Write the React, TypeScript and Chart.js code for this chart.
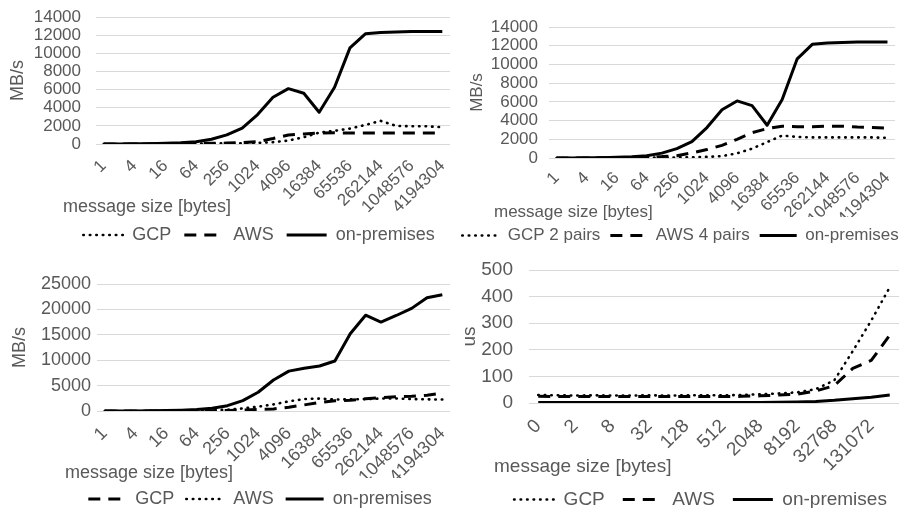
import React, { useEffect, useRef } from 'react';
import { Chart, registerables } from 'chart.js';
Chart.register(...registerables);

// ---------- data ----------
const sizesA = ['1', '2', '4', '8', '16', '32', '64', '128', '256', '512', '1024', '2048', '4096', '8192', '16384', '32768', '65536', '131072', '262144', '524288', '1048576', '2097152', '4194304'];
const sizesB = ['0', '1', '2', '4', '8', '16', '32', '64', '128', '256', '512', '1024', '2048', '4096', '8192', '16384', '32768', '65536', '131072', '262144'];

// top-left
const tlGcp = [2, 4, 8, 15, 25, 40, 55, 60, 70, 80, 120, 200, 380, 750, 1250, 1450, 1700, 2100, 2550, 2000, 1950, 1950, 1850];
const tlAws = [2, 4, 8, 15, 25, 40, 60, 80, 100, 150, 250, 600, 1000, 1100, 1200, 1250, 1200, 1200, 1200, 1200, 1200, 1200, 1200];
const tlOnPrem = [5, 10, 20, 40, 70, 130, 250, 520, 1000, 1750, 3250, 5150, 6100, 5600, 3500, 6250, 10600, 12150, 12300, 12350, 12400, 12400, 12400];

// top-right
const trGcp2 = [1, 2, 4, 8, 15, 25, 40, 50, 60, 80, 120, 200, 500, 1000, 1700, 2400, 2250, 2200, 2200, 2200, 2200, 2200, 2150];
const trAws4 = [2, 5, 10, 20, 40, 70, 110, 150, 250, 550, 900, 1350, 2000, 2700, 3150, 3400, 3350, 3350, 3400, 3400, 3300, 3250, 3200];
const trOnPrem = [5, 10, 20, 40, 70, 130, 250, 520, 1000, 1750, 3250, 5150, 6100, 5600, 3500, 6250, 10600, 12150, 12300, 12350, 12400, 12400, 12400];

// bottom-left
const blGcp = [1, 2, 4, 8, 15, 25, 40, 60, 100, 200, 300, 400, 750, 1200, 1700, 2000, 2100, 2400, 2600, 2800, 2900, 3100, 3500];
const blAws = [2, 4, 8, 15, 25, 45, 80, 150, 250, 500, 850, 1300, 1900, 2350, 2450, 2250, 2300, 2350, 2450, 2450, 2350, 2300, 2250];
const blOnPrem = [5, 10, 20, 40, 80, 150, 280, 530, 1050, 2050, 3700, 6100, 7850, 8400, 8850, 9850, 15200, 18850, 17500, 18800, 20200, 22300, 22900];

// bottom-right (latency)
const brGcp = [30, 29, 28, 29, 28, 28, 29, 28, 29, 29, 29, 30, 33, 36, 40, 52, 85, 195, 310, 435];
const brAws = [25, 24, 24, 24, 24, 24, 24, 24, 24, 24, 24, 25, 27, 30, 33, 45, 65, 130, 160, 255];
const brOnPrem = [2, 2, 2, 2, 2, 2, 2, 2, 2, 2, 2, 2, 2, 3, 4, 6, 10, 16, 22, 30];

// ---------- styling ----------
const FONT = "'Liberation Sans', Arial, Helvetica, sans-serif";
const TEXT = '#595959';
const GRID = '#d9d9d9';

const STYLES: any = {
  dotted: { borderDash: [0.5, 6], borderCapStyle: 'round', borderWidth: 2.6 },
  dashed: { borderDash: [12, 8], borderCapStyle: 'butt', borderWidth: 3 },
  solid: { borderDash: [], borderCapStyle: 'butt', borderWidth: 3 },
};

const xTitlePlugin = {
  id: 'xTitle',
  afterDraw(chart: any, _args: any, opts: any) {
    const { ctx, chartArea } = chart;
    ctx.save();
    ctx.font = `${opts.size}px ${FONT}`;
    ctx.fillStyle = TEXT;
    ctx.textAlign = 'left';
    ctx.textBaseline = 'middle';
    ctx.fillText(opts.text, chartArea.left + opts.dx, chartArea.bottom + opts.dy);
    ctx.restore();
  },
};

const defaultLabels = (Chart.defaults as any).plugins.legend.labels.generateLabels;
function legendLabels(chart: any) {
  const items = defaultLabels(chart);
  return items.map((it: any) => {
    const ds = chart.data.datasets[it.datasetIndex];
    return {
      ...it,
      pointStyle: 'line',
      lineDash: ds.borderDash,
      lineCap: ds.borderCapStyle,
      lineWidth: ds.borderWidth,
      strokeStyle: ds.borderColor,
      fillStyle: ds.borderColor,
      fontColor: TEXT,
    };
  }).sort((a: any, b: any) => a.datasetIndex - b.datasetIndex);
}

type Series = { name: string; data: number[]; style: string };
type Props = {
  left: number; top: number; width: number; height: number;
  labels: string[]; series: Series[]; yMax: number; yStep: number; yTitle: string;
  tickSize: number; fontSize: number; padTop: number; yAxisW: number; rightW: number;
  xAxisH: number; yTickPad: number; yTitlePad: number; xTickPad: number;
  legendPad: number; legendLine: number; xdx: number; xdy: number;
};

function LineChart(p: Props) {
  const ref = useRef<HTMLCanvasElement>(null);
  useEffect(() => {
    const chart = new Chart(ref.current as HTMLCanvasElement, {
      type: 'line',
      data: {
        labels: p.labels,
        datasets: p.series.map((s, i) => ({
          label: s.name,
          data: s.data,
          borderColor: '#000000',
          backgroundColor: '#000000',
          pointRadius: 0,
          pointHoverRadius: 0,
          fill: false,
          tension: 0,
          borderJoinStyle: 'round',
          order: p.series.length - i,
          ...STYLES[s.style],
        })),
      },
      options: {
        responsive: false,
        animation: false,
        devicePixelRatio: 1,
        layout: { padding: { top: p.padTop, left: 0, right: 0, bottom: 0 } },
        scales: {
          x: {
            offset: true,
            grid: { display: false, drawTicks: false },
            border: { display: false },
            ticks: {
              autoSkip: false,
              minRotation: 45,
              maxRotation: 45,
              padding: p.xTickPad,
              color: TEXT,
              font: { family: FONT, size: p.tickSize },
              callback: (_v: any, i: number) => (i % 2 === 0 ? p.labels[i] : ''),
            },
            afterFit: (s: any) => { s.height = p.xAxisH; },
          },
          y: {
            min: 0,
            max: p.yMax,
            ticks: {
              autoSkip: false,
              stepSize: p.yStep,
              padding: p.yTickPad,
              color: TEXT,
              font: { family: FONT, size: p.tickSize },
              callback: (v: any) => String(v),
            },
            grid: { color: GRID, drawTicks: false, lineWidth: 1 },
            border: { display: false },
            title: {
              display: true,
              text: p.yTitle,
              color: TEXT,
              font: { family: FONT, size: p.fontSize },
              padding: { top: p.yTitlePad, bottom: 0 },
            },
            afterFit: (s: any) => {
              s.width = p.yAxisW;
              s.paddingTop = 0;
              s.paddingBottom = 0;
            },
          },
          yRight: {
            type: 'linear',
            axis: 'y',
            position: 'right',
            display: true,
            grid: { display: false, drawTicks: false },
            border: { display: false },
            ticks: { display: false },
            afterFit: (s: any) => { s.width = p.rightW; s.paddingTop = 0; s.paddingBottom = 0; },
          },
        },
        plugins: {
          legend: {
            position: 'bottom',
            labels: {
              usePointStyle: true,
              pointStyle: 'line',
              pointStyleWidth: p.legendLine,
              padding: p.legendPad,
              color: TEXT,
              font: { family: FONT, size: p.fontSize },
              generateLabels: legendLabels,
            },
          },
          tooltip: { enabled: false },
          xTitle: { text: 'message size [bytes]', dx: p.xdx, dy: p.xdy, size: p.fontSize },
        } as any,
      } as any,
      plugins: [xTitlePlugin],
    } as any);
    return () => chart.destroy();
  }, []);
  return (
    <canvas
      ref={ref}
      width={p.width}
      height={p.height}
      style={{ position: 'absolute', left: p.left, top: p.top, width: p.width, height: p.height }}
    />
  );
}

export default function App() {
  return (
    <div style={{ position: 'absolute', left: 0, top: 0, width: 904, height: 508, overflow: 'hidden', background: '#ffffff' }}>
      <LineChart
        left={0} top={0} width={518} height={254}
        labels={sizesA}
        series={[
          { name: 'GCP', data: tlGcp, style: 'dotted' },
          { name: 'AWS', data: tlAws, style: 'dashed' },
          { name: 'on-premises', data: tlOnPrem, style: 'solid' },
        ]}
        yMax={14000} yStep={2000} yTitle="MB/s"
        tickSize={17} fontSize={18} padTop={17} yAxisW={96} rightW={68} xAxisH={69}
        yTickPad={15} yTitlePad={7} xTickPad={12} legendPad={13} legendLine={40} xdx={-33} xdy={63}
      />
      <LineChart
        left={420} top={0} width={521} height={254}
        labels={sizesA}
        series={[
          { name: 'GCP 2 pairs', data: trGcp2, style: 'dotted' },
          { name: 'AWS 4 pairs', data: trAws4, style: 'dashed' },
          { name: 'on-premises', data: trOnPrem, style: 'solid' },
        ]}
        yMax={14000} yStep={2000} yTitle="MB/s"
        tickSize={17} fontSize={17} padTop={27} yAxisW={129} rightW={46} xAxisH={59}
        yTickPad={11} yTitlePad={47} xTickPad={10} legendPad={10} legendLine={37} xdx={-55} xdy={54}
      />
      <LineChart
        left={0} top={254} width={520} height={264}
        labels={sizesA}
        series={[
          { name: 'GCP', data: blGcp, style: 'dashed' },
          { name: 'AWS', data: blAws, style: 'dotted' },
          { name: 'on-premises', data: blOnPrem, style: 'solid' },
        ]}
        yMax={25000} yStep={5000} yTitle="MB/s"
        tickSize={18} fontSize={18} padTop={30} yAxisW={97} rightW={70} xAxisH={67}
        yTickPad={6} yTitlePad={9} xTickPad={12} legendPad={12} legendLine={38} xdx={-32} xdy={62}
      />
      <LineChart
        left={452} top={254} width={497} height={265}
        labels={sizesB}
        series={[
          { name: 'GCP', data: brGcp, style: 'dotted' },
          { name: 'AWS', data: brAws, style: 'dashed' },
          { name: 'on-premises', data: brOnPrem, style: 'solid' },
        ]}
        yMax={500} yStep={100} yTitle="us"
        tickSize={19} fontSize={19} padTop={16} yAxisW={77} rightW={50} xAxisH={69}
        yTickPad={16} yTitlePad={6} xTickPad={12} legendPad={18} legendLine={40} xdx={-35} xdy={64}
      />
    </div>
  );
}
